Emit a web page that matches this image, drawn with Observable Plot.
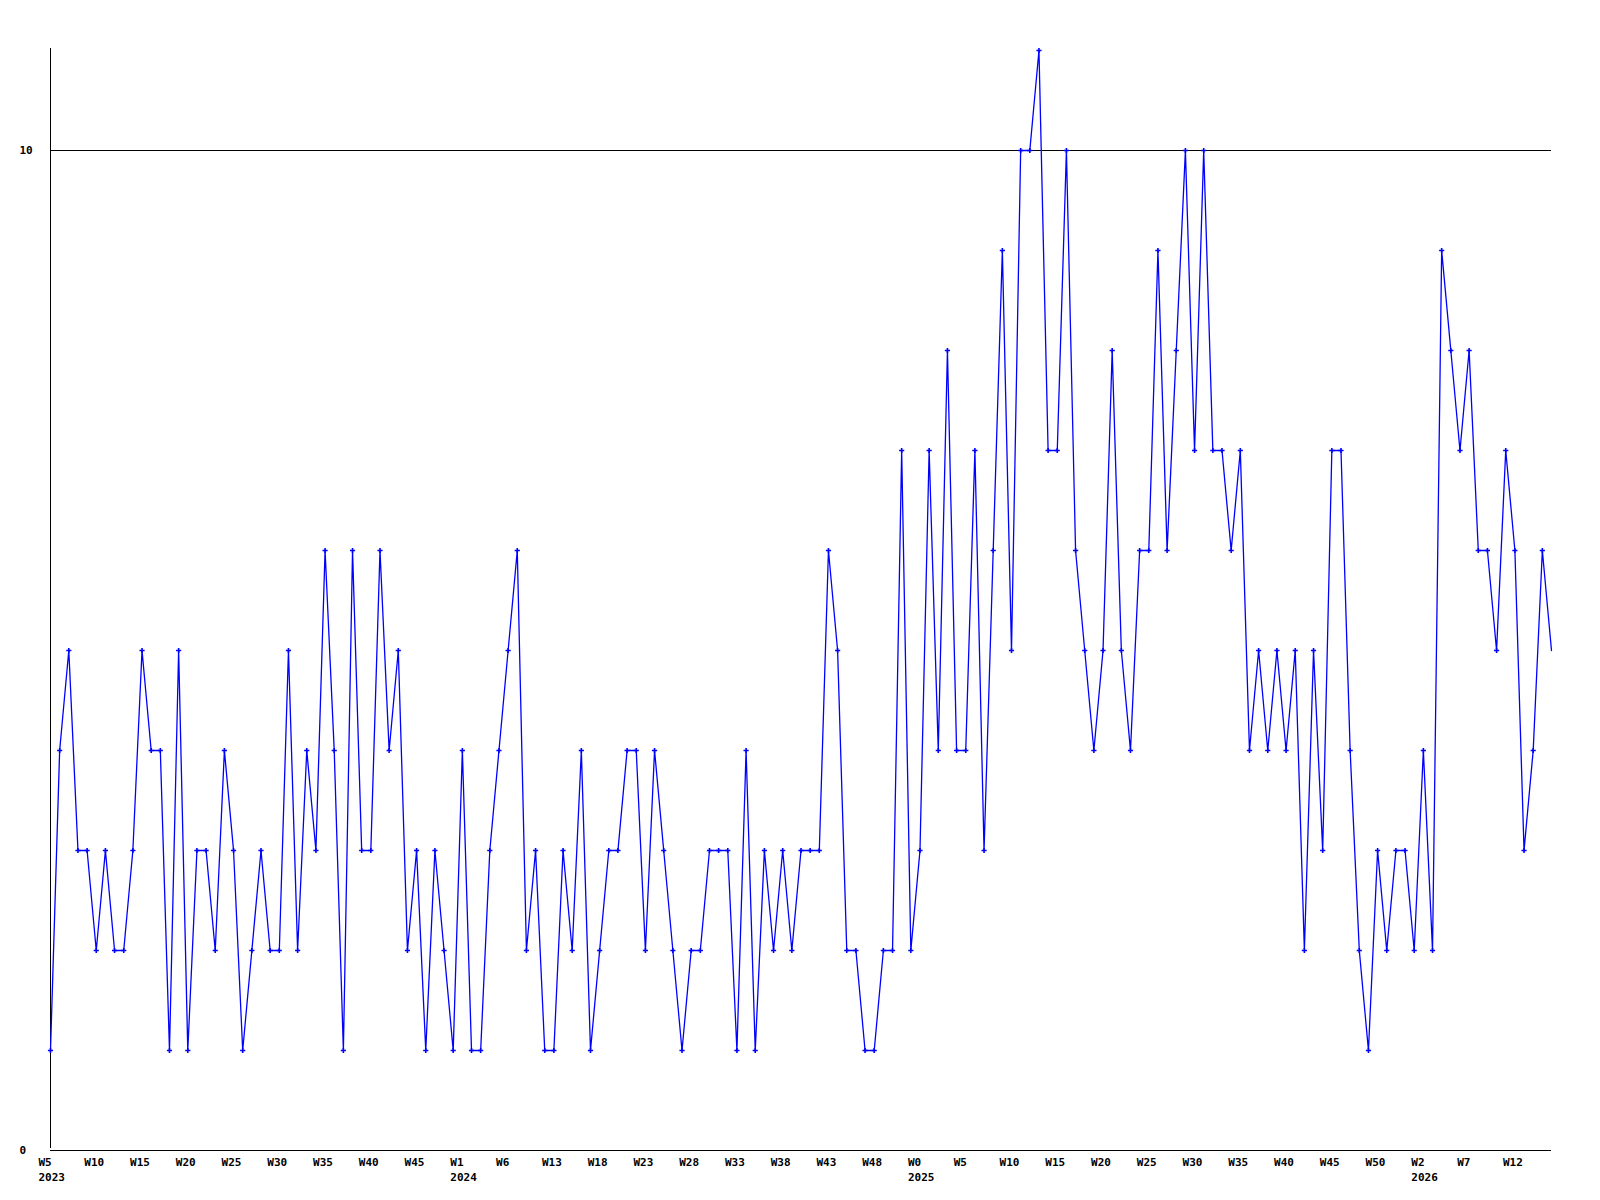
<!DOCTYPE html>
<html>
<head>
<meta charset="utf-8">
<script src="https://cdn.jsdelivr.net/npm/d3@7"></script>
<script src="https://cdn.jsdelivr.net/npm/@observablehq/plot@0.6"></script>
<style>
  html, body { margin: 0; padding: 0; background: #ffffff; }
  #chart { width: 1600px; height: 1200px; }
</style>
</head>
<body>
<div id="chart"></div>
<script>
// Weekly values, W5 2023 through W14 2026 (one value per week, index order)
const values = [
  1,4,5,3,3,2,3,2,2,3,
  5,4,4,1,5,1,3,3,2,4,
  3,1,2,3,2,2,5,2,4,3,
  6,4,1,6,3,3,6,4,5,2,
  3,1,3,2,1,4,1,1,3,4,
  5,6,2,3,1,1,3,2,4,1,
  2,3,3,4,4,2,4,3,2,1,
  2,2,3,3,3,1,4,1,3,2,
  3,2,3,3,3,6,5,2,2,1,
  1,2,2,7,2,3,7,4,8,4,
  4,7,3,6,9,5,10,10,11,7,
  7,10,6,5,4,5,8,5,4,6,
  6,9,6,8,10,7,10,7,7,6,
  7,4,5,4,5,4,5,2,5,3,
  7,7,4,2,1,3,2,3,3,2,
  4,2,9,8,7,8,6,6,5,7,
  6,3,4,6,5
];

// X tick labels (every 5th point)
const tickWeeks = ["W5","W10","W15","W20","W25","W30","W35","W40","W45",
  "W1","W6","W13","W18","W23","W28","W33","W38","W43","W48",
  "W0","W5","W10","W15","W20","W25","W30","W35","W40","W45","W50",
  "W2","W7","W12"];
const tickYears = ["2023","","","","","","","","",
  "2024","","","","","","","","","",
  "2025","","","","","","","","","","",
  "2026","",""];
const yTicks = [0, 10];
const gridLines = [10];

const points = values.map((v, i) => ({i, v}));
const markerPoints = points.slice(0, points.length - 1); // last (partial) week has no marker
const ticks = tickWeeks.map((w, k) => ({i: k * 5, label: tickYears[k] ? w + "\n" + tickYears[k] : w}));

const font = "'DejaVu Sans Mono', 'Liberation Mono', monospace";

const chart = Plot.plot({
  width: 1600,
  height: 1200,
  marginLeft: 50,
  marginRight: 49,
  marginTop: 50,
  marginBottom: 50,
  style: {background: "#ffffff", fontFamily: font, fontSize: "11px", fontWeight: "bold", color: "#000"},
  x: {type: "linear", domain: [0, values.length - 1], axis: null},
  y: {type: "linear", domain: [0, 11], axis: null},
  marks: [
    Plot.ruleY(gridLines, {stroke: "#000", strokeWidth: 1, shapeRendering: "crispEdges"}),
    Plot.ruleY([0], {stroke: "#000", strokeWidth: 1.5, shapeRendering: "crispEdges"}),
    Plot.ruleX([0], {y1: 0, y2: 11, stroke: "#000", strokeWidth: 1.5, dy: -2, shapeRendering: "crispEdges"}),
    Plot.line(points, {x: "i", y: "v", stroke: "#0000ff", strokeWidth: 1.3, curve: "linear"}),
    Plot.dot(markerPoints, {x: "i", y: "v", symbol: "plus", r: 1.8, stroke: "#0000ff", strokeWidth: 1.6}),
    Plot.text(ticks, {
      x: "i", text: "label", frameAnchor: "bottom", dy: 5,
      textAnchor: "start", dx: -12, lineAnchor: "top", lineHeight: 1.35,
      fill: "#000", fontFamily: font, fontSize: 11, fontWeight: "bold"
    }),
    Plot.text(yTicks, {
      y: d => d, text: d => String(d), frameAnchor: "left", dx: -31,
      textAnchor: "start", fill: "#000", fontFamily: font, fontSize: 11, fontWeight: "bold"
    })
  ]
});
document.getElementById("chart").appendChild(chart);
</script>
</body>
</html>
